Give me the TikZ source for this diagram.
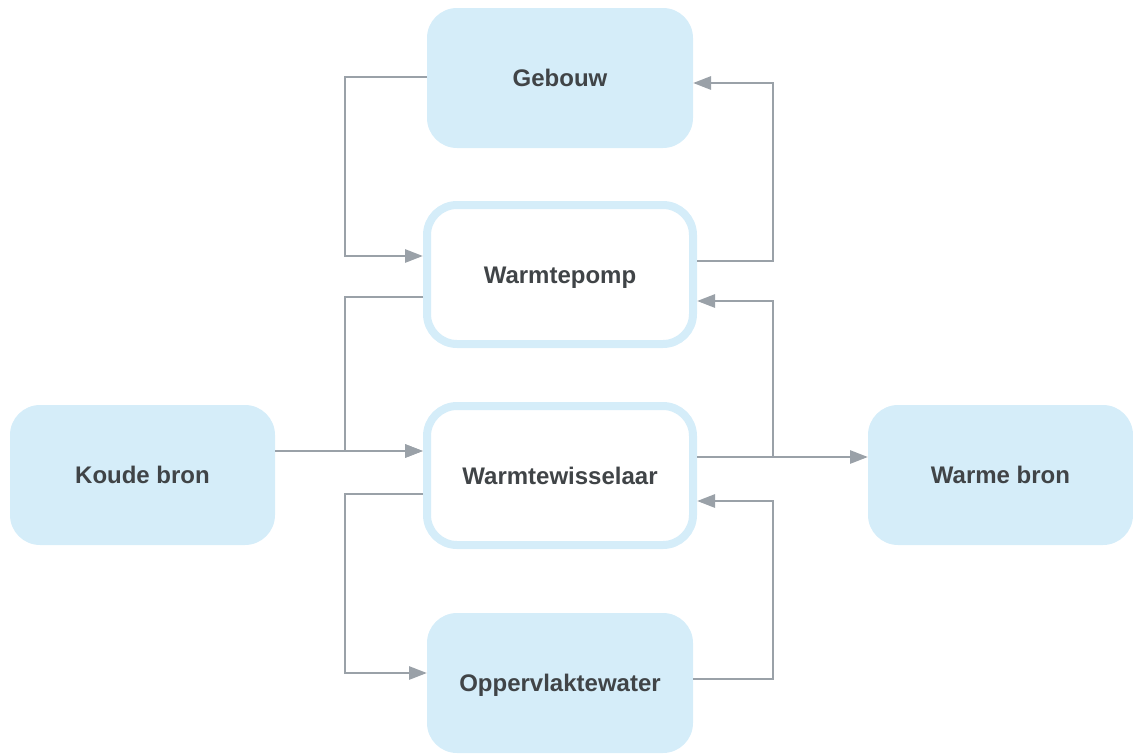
\documentclass[tikz,border=0pt]{standalone}
\usepackage{fontspec}
\setmainfont{Liberation Sans}
\usetikzlibrary{arrows.meta,calc}
\definecolor{boxblue}{HTML}{D5EDF9}
\definecolor{linegray}{HTML}{9AA1A8}
\definecolor{txtgray}{HTML}{404447}
\begin{document}
\begin{tikzpicture}[x=1pt,y=-1pt,
  base/.style={rounded corners=30pt, minimum width=266pt, minimum height=140pt,
    inner sep=0pt, text=txtgray, font=\fontsize{24}{28}\selectfont\bfseries,
    text height=17.2pt, text depth=0pt},
  filledbox/.style={base, fill=boxblue, outer sep=0pt},
  outlinebox/.style={base, draw=boxblue, line width=8pt, fill=white, outer sep=4pt,
    minimum width=266pt, minimum height=139pt},
  conn/.style={draw=linegray, line width=2.8pt},
  arr/.style={conn, -{Triangle[length=18pt,width=13pt]}}]
\useasboundingbox (0,0) rectangle (1133,753);
\coordinate (lbus) at (345,0);
\coordinate (rbus) at (773,0);

\node[filledbox] (geb) at (560,78) {Gebouw};
\node[outlinebox] (wp) at (560,274.5) {Warmtepomp};
\node[outlinebox] (ww) at (560,475.5) {Warmtewisselaar};
\node[filledbox] (ow) at (560,683) {Oppervlaktewater};
\node[filledbox, minimum width=265pt] (kb) at (142.5,475) {Koude bron};
\node[filledbox, minimum width=265pt] (wb) at (1000.5,475) {Warme bron};

% Gebouw -> Warmtepomp
\draw[arr] ([yshift=1pt]geb.west) -- ([yshift=1pt]geb.west -| lbus) |- ([yshift=18.5pt]wp.west);
% Warmtepomp -> Warmtewisselaar
\draw[arr] ([yshift=-22.5pt]wp.west) -- ([yshift=-22.5pt]wp.west -| lbus) |- ([yshift=24.5pt]ww.west);
% Koude bron -> Warmtewisselaar
\draw[arr] ([yshift=24pt]kb.east) -- ([yshift=24pt]kb.east -| ww.west);
% Warmtepomp -> Gebouw
\draw[arr] ([yshift=13.5pt]wp.east) -- ([yshift=13.5pt]wp.east -| rbus) |- ([yshift=-5pt]geb.east);
% Warmtewisselaar -> Warmtepomp
\draw[arr] ([yshift=18.5pt]ww.east) -- ([yshift=18.5pt]ww.east -| rbus) |- ([yshift=-26.5pt]wp.east);
% Warmtewisselaar -> Warme bron
\draw[arr] ([yshift=18.5pt]ww.east) -- ([yshift=18.5pt]ww.east -| wb.west);
% Warmtewisselaar -> Oppervlaktewater
\draw[arr] ([yshift=-18.5pt]ww.west) -- ([yshift=-18.5pt]ww.west -| lbus) |- ([yshift=10pt]ow.west);
% Oppervlaktewater -> Warmtewisselaar
\draw[arr] ([yshift=4pt]ow.east) -- ([yshift=4pt]ow.east -| rbus) |- ([yshift=-25.5pt]ww.east);
\end{tikzpicture}
\end{document}
